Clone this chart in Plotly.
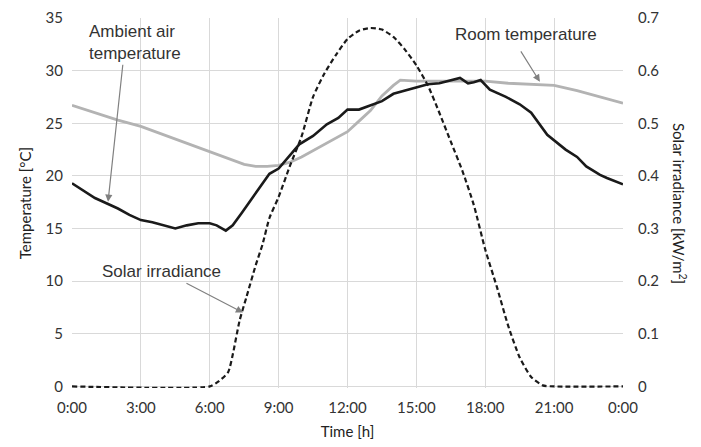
import plotly.graph_objects as go

# Hourly profiles over one day (time in hours since midnight)
ambient_hours = [0, 0.5, 1.0, 1.5, 2.0, 2.5, 3.0, 3.5, 4.0, 4.5, 5.0, 5.5, 6.0, 6.3, 6.7, 7.0,
                 7.4, 7.8, 8.2, 8.6, 9.0, 9.3, 9.9, 10.5, 11.1, 11.6, 12.0, 12.5, 13.0, 13.5,
                 14.0, 14.5, 15.0, 15.5, 16.0, 16.5, 16.9, 17.25, 17.5, 17.8, 18.2, 18.9, 19.5,
                 20.0, 20.7, 21.5, 22.0, 22.4, 23.0, 23.3, 24.0]
ambient_temp = [19.3, 18.6, 17.9, 17.4, 16.9, 16.3, 15.8, 15.6, 15.3, 15.0, 15.3, 15.5, 15.5,
                15.3, 14.8, 15.3, 16.5, 17.7, 19.0, 20.2, 20.7, 21.5, 23.0, 23.8, 24.9, 25.5,
                26.3, 26.3, 26.7, 27.1, 27.8, 28.1, 28.4, 28.7, 28.8, 29.1, 29.3, 28.8, 28.9,
                29.1, 28.2, 27.5, 26.8, 26.0, 23.9, 22.5, 21.8, 20.9, 20.1, 19.8, 19.2]

room_hours = [0, 1, 2, 3, 4, 5, 6, 7, 7.5, 8, 8.5, 9, 9.5, 10, 11, 12, 12.5, 13, 13.5, 14,
              14.3, 15, 16, 17, 18, 19, 20, 21, 22, 23, 24]
room_temp = [26.7, 26.0, 25.3, 24.7, 23.9, 23.1, 22.3, 21.5, 21.1, 20.9, 20.9, 21.0, 21.3,
             21.8, 23.0, 24.2, 25.2, 26.2, 27.6, 28.6, 29.1, 29.0, 29.0, 29.0, 29.0, 28.8,
             28.7, 28.6, 28.1, 27.5, 26.9]

solar_hours = [0, 6.0, 6.4, 6.8, 7.0, 7.3, 7.6, 8.0, 8.3, 8.6, 9.0, 9.5, 10.0, 10.5, 11.0,
               11.5, 12.0, 12.5, 13.0, 13.5, 14.0, 14.5, 15.0, 15.5, 16.0, 16.5, 17.0, 17.5,
               18.0, 18.5, 19.0, 19.5, 20.0, 20.5, 21.0, 24.0]
solar_irr = [0, 0, 0.01, 0.027, 0.06, 0.125, 0.17, 0.23, 0.27, 0.32, 0.36, 0.42, 0.475, 0.55,
             0.595, 0.63, 0.66, 0.676, 0.681, 0.678, 0.664, 0.64, 0.61, 0.572, 0.52, 0.465,
             0.41, 0.345, 0.26, 0.19, 0.115, 0.055, 0.018, 0.002, 0, 0]

time_ticks = [0, 3, 6, 9, 12, 15, 18, 21, 24]
time_labels = ["0:00", "3:00", "6:00", "9:00", "12:00", "15:00", "18:00", "21:00", "0:00"]

# Both vertical axes start a hair below zero (same fraction of span on each) so the
# zero-level dashed segments are not clipped by the plot edge while gridlines stay aligned.
T_MAX, I_MAX = 35, 0.7
PAD = 0.0043
TEMP_RANGE = [-PAD * T_MAX / (1 - PAD), T_MAX]
IRR_RANGE = [-PAD * I_MAX / (1 - PAD), I_MAX]

TICK_FONT = dict(family="Lato", size=15, color="#333333")
TITLE_FONT = dict(family="Lato", size=15, color="#222222")
NOTE_FONT = dict(family="Liberation Sans", size=17, color="#333333")
ARROW = "#808080"

fig = go.Figure()
fig.add_trace(go.Scatter(x=room_hours, y=room_temp, mode="lines",
                         line=dict(color="#b3b3b3", width=2.8), name="Room temperature"))
fig.add_trace(go.Scatter(x=ambient_hours, y=ambient_temp, mode="lines",
                         line=dict(color="#1a1a1a", width=2.6), name="Ambient air temperature"))
fig.add_trace(go.Scatter(x=solar_hours, y=solar_irr, mode="lines", yaxis="y2",
                         line=dict(color="#1a1a1a", width=2.2, dash="5px,3px", shape="spline",
                                   smoothing=0.6),
                         name="Solar irradiance"))

annotations = [
    dict(x=2.74, y=32.7, text="Ambient air<br>temperature", showarrow=False,
         font=NOTE_FONT, align="left"),
    dict(x=1.57, y=17.55, ax=2.22, ay=30.7, axref="x", ayref="y", text="",
         showarrow=True, arrowhead=2, arrowsize=1.2, arrowwidth=1.2, arrowcolor=ARROW),
    dict(x=19.77, y=33.4, text="Room temperature", showarrow=False, font=NOTE_FONT),
    dict(x=20.38, y=28.94, ax=19.51, ay=31.97, axref="x", ayref="y", text="",
         showarrow=True, arrowhead=2, arrowsize=1.2, arrowwidth=1.2, arrowcolor=ARROW),
    dict(x=3.88, y=10.9, text="Solar irradiance", showarrow=False, font=NOTE_FONT),
    dict(x=7.45, y=7.02, ax=4.92, ay=9.87, axref="x", ayref="y", text="",
         showarrow=True, arrowhead=2, arrowsize=1.2, arrowwidth=1.2, arrowcolor=ARROW),
    dict(x=1.0, y=0.5, xref="paper", yref="paper", xshift=57, xanchor="center",
         yanchor="middle", text="Solar irradiance [kW/m<sup>2</sup>]", textangle=90,
         showarrow=False, font=TITLE_FONT),
]

fig.update_layout(
    width=701, height=447,
    margin=dict(l=72, r=78, t=18, b=59, autoexpand=False),
    paper_bgcolor="white", plot_bgcolor="white",
    showlegend=False,
    annotations=annotations,
    xaxis=dict(range=[0, 24], tickvals=time_ticks, ticktext=time_labels,
               showgrid=True, gridcolor="#d9d9d9", gridwidth=1.2, zeroline=False,
               showline=False, ticks="", tickfont=TICK_FONT, automargin=False,
               ticklabelstandoff=9, layer="below traces",
               title=dict(text="Time [h]", font=TITLE_FONT, standoff=11)),
    yaxis=dict(range=TEMP_RANGE, dtick=5, tick0=0, showgrid=True, gridcolor="#d9d9d9",
               gridwidth=1.2, zeroline=False, showline=False, ticks="", tickfont=TICK_FONT,
               ticklabelstandoff=8, layer="below traces", automargin=False,
               title=dict(text="Temperature [°C]", font=TITLE_FONT, standoff=10)),
    yaxis2=dict(range=IRR_RANGE, dtick=0.1, tick0=0, overlaying="y", side="right",
                showgrid=False, zeroline=False, showline=False, ticks="",
                tickfont=TICK_FONT, tickformat=".1~f", ticklabelstandoff=14,
                layer="below traces", automargin=False),
)

fig.write_html("out.html")
